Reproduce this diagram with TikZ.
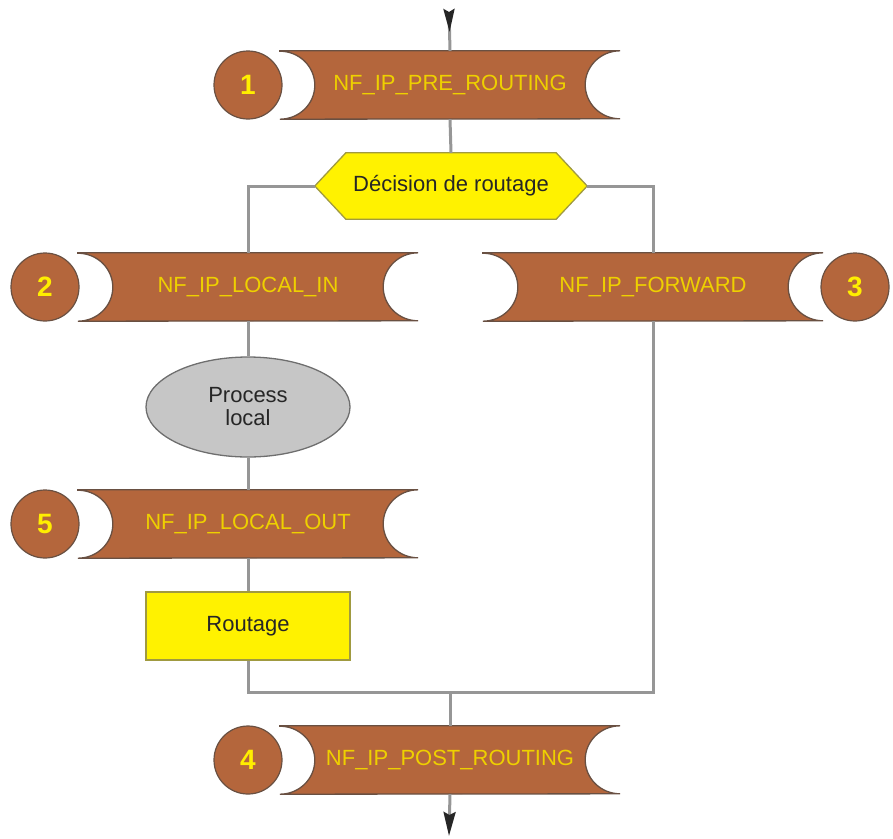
\documentclass[tikz,border=0pt]{standalone}
\usepackage{fontspec}
\setmainfont{Liberation Sans}
\usetikzlibrary{arrows.meta,shapes.geometric}
\definecolor{brn}{RGB}{180,102,60}
\definecolor{brnedge}{RGB}{105,80,66}
\definecolor{bantext}{RGB}{238,208,0}
\definecolor{numtext}{RGB}{255,238,0}
\definecolor{linegray}{RGB}{150,150,150}
\definecolor{ylw}{RGB}{255,242,0}
\definecolor{ylwedge}{RGB}{160,154,64}
\definecolor{ellfill}{RGB}{198,198,198}
\definecolor{elledge}{RGB}{110,110,110}
\pgfdeclarelayer{bg}
\pgfsetlayers{bg,main}
\newcommand\bannerbg[1]{%
  \begin{pgfonlayer}{bg}
  \filldraw[fill=brn, draw=brnedge, line width=1.3pt]
    (#1.north west) -- (#1.north east)
    arc[start angle=90,end angle=270,x radius=35pt,y radius=34pt]
    -- (#1.south west)
    arc[start angle=-90,end angle=90,x radius=35pt,y radius=34pt] -- cycle;
  \end{pgfonlayer}}
\begin{document}
\begin{tikzpicture}[x=1pt,y=1pt,
  banner/.style={minimum width=340pt, minimum height=68pt, inner sep=0pt,
    text=bantext, font=\fontsize{22}{24}\selectfont},
  num/.style={circle, fill=brn, draw=brnedge, line width=1.2pt, minimum size=68pt,
    inner sep=0pt, text=numtext, font=\fontsize{28}{30}\selectfont\bfseries},
  conn/.style={draw=linegray, line width=3pt},
  dtext/.style={text=black!85, font=\fontsize{22}{24}\selectfont}]
\useasboundingbox (0,0) rectangle (893,-838);

% banners
\node[banner] (b1) at (450,-85) {NF\_IP\_PRE\_ROUTING};
\node[banner] (b2) at (248,-287) {NF\_IP\_LOCAL\_IN};
\node[banner] (b3) at (653,-287) {NF\_IP\_FORWARD};
\node[banner] (b5) at (248,-524) {NF\_IP\_LOCAL\_OUT};
\node[banner] (b4) at (450,-760) {NF\_IP\_POST\_ROUTING};
\bannerbg{b1}\bannerbg{b2}\bannerbg{b3}\bannerbg{b5}\bannerbg{b4}

% numbers
\node[num] (n1) at (248,-85) {1};
\node[num] (n2) at (45,-287) {2};
\node[num] (n3) at (855,-287) {3};
\node[num] (n5) at (45,-524) {5};
\node[num] (n4) at (248,-760) {4};

% decision
\node[dtext, minimum width=272pt, minimum height=66pt, inner sep=0pt] (dec) at (451,-186) {Décision de routage};
\begin{pgfonlayer}{bg}
\filldraw[fill=ylw, draw=ylwedge, line width=1.3pt]
  (dec.west) -- ([xshift=31pt]dec.north west) -- ([xshift=-31pt]dec.north east)
  -- (dec.east) -- ([xshift=-31pt]dec.south east) -- ([xshift=31pt]dec.south west) -- cycle;
\end{pgfonlayer}

% process local
\node[ellipse, fill=ellfill, draw=elledge, line width=1.3pt, minimum width=204pt,
  minimum height=100pt, inner sep=0pt, align=center, dtext] (proc) at (248,-407) {Process\\[-1pt]local};

% routage
\node[rectangle, fill=ylw, draw=ylwedge, line width=1.3pt, minimum width=204pt,
  minimum height=68pt, inner sep=0pt, dtext] (rout) at (248,-626) {Routage};

% coordinates
\coordinate (in) at (449,-9);
\coordinate (out) at (449,-836);
\coordinate (jm) at (450,-692);

% connectors
\begin{pgfonlayer}{bg}
\draw[conn, {Stealth[reversed, length=23pt, width=11pt, inset=3pt, color=black!85]}-] (in) -- (b1.north);
\draw[conn] (b1.south) -- (dec.north);
\draw[conn] (dec.west) -| (b2.north);
\draw[conn] (dec.east) -| (b3.north);
\draw[conn] (b2.south) -- (proc.north);
\draw[conn] (proc.south) -- (b5.north);
\draw[conn] (b5.south) -- (rout.north);
\draw[conn] (rout.south) |- (jm);
\draw[conn] (b3.south) |- (jm);
\draw[conn] (jm) -- (b4.north);
\draw[conn, -{Stealth[length=24pt, width=12pt, inset=3pt, color=black!85]}] (b4.south) -- (out);
\end{pgfonlayer}
\end{tikzpicture}
\end{document}
